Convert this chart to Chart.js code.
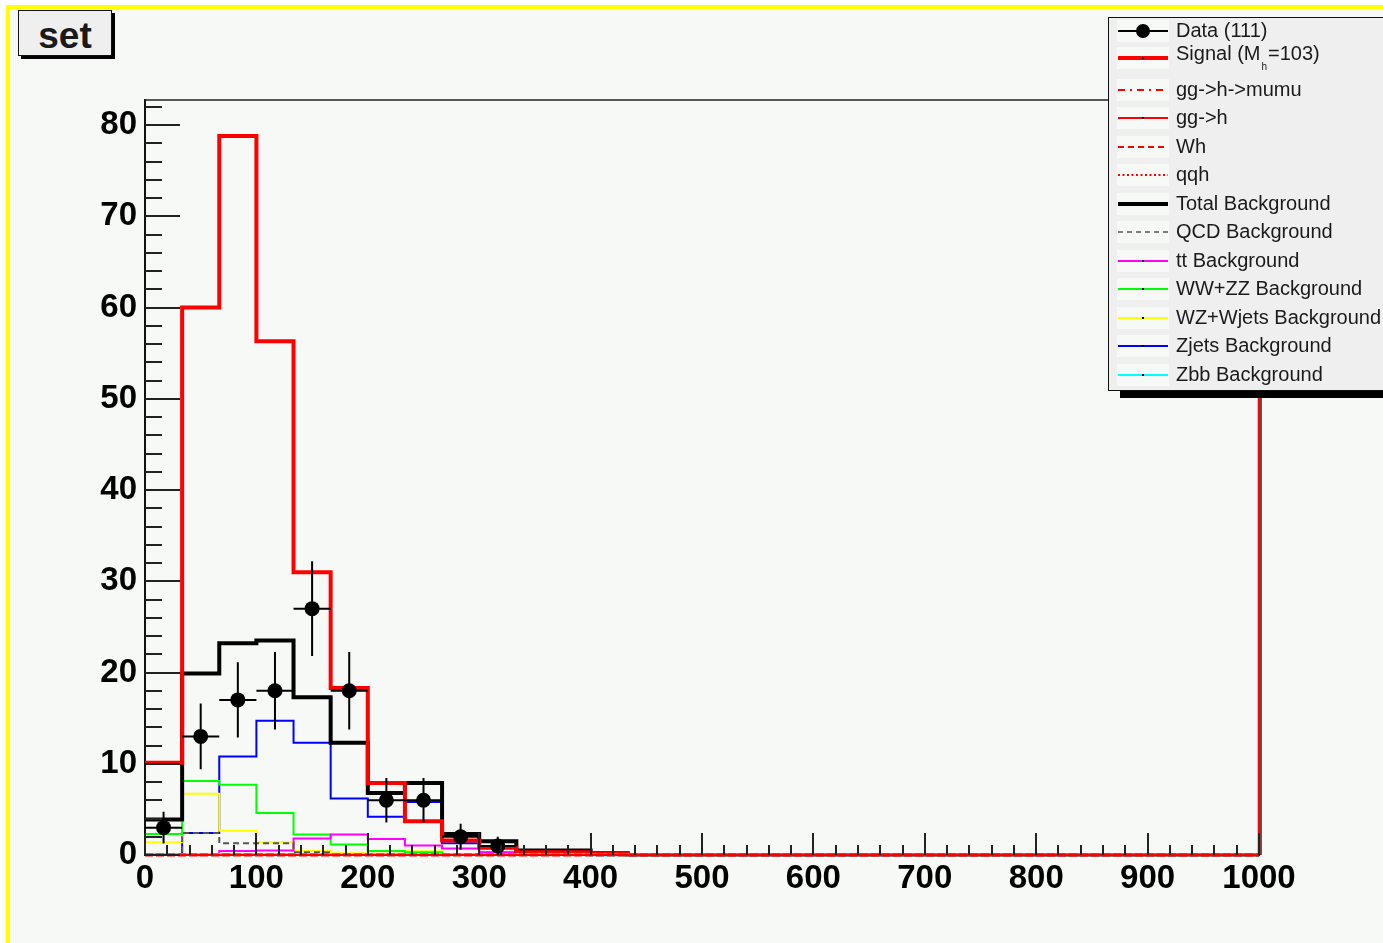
<!DOCTYPE html>
<html>
<head>
<meta charset="utf-8">
<script src="https://cdn.jsdelivr.net/npm/chart.js@4.4.1/dist/chart.umd.min.js"></script>
<style>
  html, body { margin: 0; padding: 0; background: #ffffff; overflow: hidden; width: 1383px; height: 943px; }
  #pad { position: absolute; left: 6px; top: 5px; width: 1400px; height: 960px; box-sizing: border-box;
         background: #f6f9f6; border-left: 4px solid #ffff00; border-top: 4px solid #ffff00; }
  #plot { position: absolute; left: 0; top: 0; }
  .box { position: absolute; background: #efefef; border: 1.5px solid #111; box-sizing: border-box;
         font-family: "Liberation Sans", Arial, Helvetica, sans-serif; color: #1a1a1a; }
  .shadow { position: absolute; background: #000; }
  #title { left: 18px; top: 10px; width: 94px; height: 46px; font-weight: bold; font-size: 37px;
           text-align: center; line-height: 50px; overflow: hidden; }
  #legend { left: 1108px; top: 17px; width: 300px; height: 374px; font-size: 20px; }
  .row { position: absolute; left: 0; height: 24px; width: 300px; }
  .sym { position: absolute; left: 8px; top: 1px; width: 52px; height: 22px; background: #f6f9f6; }
  .sym svg { position: absolute; left: 0; top: 0; }
  .txt { position: absolute; left: 67px; top: 0; line-height: 22px; white-space: nowrap; }
  .sub { font-size: 10px; position: relative; top: 10px; margin: 0 1px 0 1px; }
</style>
</head>
<body>
<div id="pad"></div>
<canvas id="plot" width="1383" height="943"></canvas>
<div class="shadow" style="left:21px;top:13px;width:94px;height:46px;"></div>
<div id="title" class="box">set</div>
<div class="shadow" style="left:1120px;top:24px;width:300px;height:374px;"></div>
<div id="legend" class="box"></div>

<script>
// ---- Binning of the histograms (30 bins from 0 to 1000) ----
const NBINS = 30;
const X_MIN = 0;
const X_MAX = 1000;
const Y_MAX = 82.74;
const xTickLabels = [0, 100, 200, 300, 400, 500, 600, 700, 800, 900, 1000];
const yTickLabels = [0, 10, 20, 30, 40, 50, 60, 70, 80];

// ---- Bin contents ----
const dataCounts      = [3, 13, 17, 18, 27, 18, 6, 6, 2, 1, 0, 0, 0, 0, 0, 0, 0, 0, 0, 0, 0, 0, 0, 0, 0, 0, 0, 0, 0, 0];
const signalValues    = [10.1, 60.0, 78.8, 56.3, 31.0, 18.3, 7.9, 3.7, 1.6, 0.8, 0.3, 0.3, 0.1, 0, 0, 0, 0, 0, 0, 0, 0, 0, 0, 0, 0, 0, 0, 0, 0, 0];
const ggHmumuValues   = [0, 0, 0, 0, 0, 0, 0, 0, 0, 0, 0, 0, 0, 0, 0, 0, 0, 0, 0, 0, 0, 0, 0, 0, 0, 0, 0, 0, 0, 0];
const ggHValues       = [0, 0, 0, 0, 0, 0, 0, 0, 0, 0, 0, 0, 0, 0, 0, 0, 0, 0, 0, 0, 0, 0, 0, 0, 0, 0, 0, 0, 0, 0];
const whValues        = [0, 0, 0, 0, 0, 0, 0, 0, 0, 0, 0, 0, 0, 0, 0, 0, 0, 0, 0, 0, 0, 0, 0, 0, 0, 0, 0, 0, 0, 0];
const qqhValues       = [0, 0, 0, 0, 0, 0, 0, 0, 0, 0, 0, 0, 0, 0, 0, 0, 0, 0, 0, 0, 0, 0, 0, 0, 0, 0, 0, 0, 0, 0];
const totalBgValues   = [3.9, 19.9, 23.2, 23.5, 17.3, 12.3, 6.8, 7.9, 2.3, 1.5, 0.5, 0.5, 0.2, 0, 0, 0, 0, 0, 0, 0, 0, 0, 0, 0, 0, 0, 0, 0, 0, 0];
const qcdValues       = [0, 2.4, 1.3, 1.3, 0.3, 0, 0, 0, 0, 0, 0, 0, 0, 0, 0, 0, 0, 0, 0, 0, 0, 0, 0, 0, 0, 0, 0, 0, 0, 0];
const ttValues        = [0, 0, 0.45, 0.5, 1.8, 2.25, 1.75, 1.05, 0.7, 0.3, 0, 0, 0, 0, 0, 0, 0, 0, 0, 0, 0, 0, 0, 0, 0, 0, 0, 0, 0, 0];
const wwzzValues      = [2.3, 8.1, 7.7, 4.6, 2.25, 1.15, 0.45, 0.3, 0.1, 0, 0, 0, 0, 0, 0, 0, 0, 0, 0, 0, 0, 0, 0, 0, 0, 0, 0, 0, 0, 0];
const wzWjetsValues   = [1.4, 6.7, 2.65, 1.4, 0.45, 0.2, 0.4, 0.4, 0.1, 0, 0, 0, 0, 0, 0, 0, 0, 0, 0, 0, 0, 0, 0, 0, 0, 0, 0, 0, 0, 0];
const zjetsValues     = [0, 2.4, 10.8, 14.7, 12.3, 6.2, 4.2, 5.8, 1.3, 0.25, 0, 0, 0, 0, 0, 0, 0, 0, 0, 0, 0, 0, 0, 0, 0, 0, 0, 0, 0, 0];
const zbbValues       = [0.05, 0.05, 0.05, 0.05, 0.05, 0.05, 0.05, 0.05, 0.05, 0.05, 0.05, 0.05, 0, 0, 0, 0, 0, 0, 0, 0, 0, 0, 0, 0, 0, 0, 0, 0, 0, 0];

const binWidth = (X_MAX - X_MIN) / NBINS;
const binEdges = Array.from({ length: NBINS + 1 }, (_, i) => X_MIN + i * binWidth);

// Outline of a histogram: one point at each bin's low edge, closed at the upper edge
function histPoints(values) {
  const pts = values.map((v, i) => ({ x: binEdges[i], y: v }));
  pts.push({ x: binEdges[NBINS], y: values[NBINS - 1] });
  return pts;
}

const FONT = '"Liberation Sans", Arial, Helvetica, sans-serif';

// Series styles (lower order = drawn on top)
const histStyles = [
  { label: 'Signal (M_h =103)', values: signalValues,  color: '#ff0000', width: 4,   dash: [],        order: 6,  dot: true },
  { label: 'gg->h->mumu',       values: ggHmumuValues, color: '#ff0000', width: 3,   dash: [8, 3],    order: 1 },
  { label: 'gg->h',             values: ggHValues,     color: '#ff0000', width: 2,   dash: [],        order: 2,  dot: true },
  { label: 'Wh',                values: whValues,      color: '#ff0000', width: 2,   dash: [6, 4],    order: 3 },
  { label: 'qqh',               values: qqhValues,     color: '#ff0000', width: 2,   dash: [2, 3],    order: 4 },
  { label: 'Total Background',  values: totalBgValues, color: '#000000', width: 4,   dash: [],        order: 7 },
  { label: 'QCD Background',    values: qcdValues,     color: '#555555', width: 2,   dash: [6, 4],    order: 8 },
  { label: 'tt Background',     values: ttValues,      color: '#ff00ff', width: 2,   dash: [],        order: 9,  dot: true },
  { label: 'WW+ZZ Background',  values: wwzzValues,    color: '#00ff00', width: 2,   dash: [],        order: 10, dot: true },
  { label: 'WZ+Wjets Background', values: wzWjetsValues, color: '#ffff00', width: 2, dash: [],        order: 11, dot: true },
  { label: 'Zjets Background',  values: zjetsValues,   color: '#0000ff', width: 2,   dash: [],        order: 12, dot: true },
  { label: 'Zbb Background',    values: zbbValues,     color: '#00ffff', width: 3,   dash: [],        order: 5,  dot: true }
];

const datasets = histStyles.map(s => ({
  type: 'line',
  label: s.label,
  data: histPoints(s.values),
  stepped: true,
  borderColor: s.color,
  borderWidth: s.width,
  borderDash: s.dash,
  pointRadius: 0,
  fill: false,
  tension: 0,
  clip: 10,
  order: s.order
}));

const dataPoints = dataCounts
  .map((n, i) => ({ x: (binEdges[i] + binEdges[i + 1]) / 2, y: n, lo: binEdges[i], hi: binEdges[i + 1] }))
  .filter(p => p.y > 0);

datasets.push({
  type: 'scatter',
  label: 'Data (111)',
  data: dataPoints,
  pointRadius: 7.5,
  pointBackgroundColor: '#000',
  pointBorderWidth: 0,
  showLine: false,
  clip: 10,
  order: 0
});

// Error bars: horizontal = bin width, vertical = sqrt(N)
const errorBars = {
  id: 'errorBars',
  beforeDatasetDraw(chart, args) {
    if (args.meta.type !== 'scatter') return;
    const xs = chart.scales.x, ys = chart.scales.y, ctx = chart.ctx;
    ctx.save();
    ctx.strokeStyle = '#000';
    ctx.lineWidth = 2;
    dataPoints.forEach(p => {
      const e = Math.sqrt(p.y);
      const px = xs.getPixelForValue(p.x), py = ys.getPixelForValue(p.y);
      ctx.beginPath();
      ctx.moveTo(xs.getPixelForValue(p.lo), py);
      ctx.lineTo(xs.getPixelForValue(p.hi), py);
      ctx.moveTo(px, ys.getPixelForValue(p.y - e));
      ctx.lineTo(px, ys.getPixelForValue(p.y + e));
      ctx.stroke();
    });
    ctx.restore();
  }
};

// Frame and inward tick marks
const frameTicks = {
  id: 'frameTicks',
  afterDatasetsDraw(chart) {
    const xs = chart.scales.x, ys = chart.scales.y, ctx = chart.ctx;
    const a = chart.chartArea;
    ctx.save();
    // top and right frame lines
    ctx.strokeStyle = '#222';
    ctx.lineWidth = 1.5;
    ctx.beginPath();
    ctx.moveTo(a.left, a.top);
    ctx.lineTo(a.right + 2, a.top);
    ctx.moveTo(a.right + 2, a.top);
    ctx.lineTo(a.right + 2, a.bottom);
    ctx.stroke();
    // right edge of the signal outline
    ctx.strokeStyle = '#ff0000';
    ctx.lineWidth = 2.5;
    ctx.beginPath();
    ctx.moveTo(xs.getPixelForValue(X_MAX), ys.getPixelForValue(0));
    ctx.lineTo(xs.getPixelForValue(X_MAX), a.top);
    ctx.stroke();
    // y ticks: major every 10, minor every 2
    ctx.strokeStyle = '#222';
    ctx.lineWidth = 2;
    ctx.beginPath();
    for (let v = 0; v <= Y_MAX; v += 2) {
      const py = Math.round(ys.getPixelForValue(v));
      const len = (v % 10 === 0) ? 35 : 17;
      ctx.moveTo(a.left, py);
      ctx.lineTo(a.left + len, py);
    }
    // x ticks: major every 100, minor every 20
    for (let v = X_MIN; v <= X_MAX; v += 20) {
      const px = Math.round(xs.getPixelForValue(v));
      const len = (v % 100 === 0) ? 22 : 10;
      ctx.moveTo(px, a.bottom);
      ctx.lineTo(px, a.bottom - len);
    }
    ctx.stroke();
    ctx.restore();
  }
};

new Chart(document.getElementById('plot'), {
  type: 'line',
  data: { datasets },
  options: {
    responsive: false,
    devicePixelRatio: 1,
    animation: false,
    layout: { padding: { top: 100, right: 124, left: 0, bottom: 0 } },
    plugins: { legend: { display: false }, tooltip: { enabled: false }, title: { display: false } },
    scales: {
      x: {
        type: 'linear',
        min: X_MIN, max: X_MAX,
        afterFit(scale) { scale.height = 88; },
        afterBuildTicks(scale) { scale.ticks = xTickLabels.map(v => ({ value: v })); },
        grid: { display: false, drawTicks: false },
        border: { display: true, color: '#111', width: 2 },
        ticks: { autoSkip: false, maxRotation: 0, padding: 4, color: '#000',
                 callback: v => String(v),
                 font: { family: FONT, size: 33, weight: 'bold' } }
      },
      y: {
        type: 'linear',
        min: 0, max: Y_MAX,
        afterFit(scale) { scale.width = 145; },
        afterBuildTicks(scale) { scale.ticks = yTickLabels.map(v => ({ value: v })); },
        grid: { display: false, drawTicks: false },
        border: { display: true, color: '#111', width: 2 },
        ticks: { padding: 8, color: '#000', callback: v => String(v),
                 font: { family: FONT, size: 33, weight: 'bold' } }
      }
    }
  },
  plugins: [errorBars, frameTicks]
});

// ---- Legend ----
const legendRows = [
  { text: 'Data (111)', kind: 'data', shift: -2 },
  { text: 'Signal (M<span class="sub">h</span>=103)', style: histStyles[0], shift: -3, textShift: -4 },
  { text: 'gg-&gt;h-&gt;mumu', style: histStyles[1], dash: '7 5 2 5' },
  { text: 'gg-&gt;h', style: histStyles[2] },
  { text: 'Wh', style: histStyles[3], dash: '6 4' },
  { text: 'qqh', style: histStyles[4], dash: '2 2.5' },
  { text: 'Total Background', style: histStyles[5] },
  { text: 'QCD Background', style: histStyles[6], dash: '5 4', width: 1.5 },
  { text: 'tt Background', style: histStyles[7] },
  { text: 'WW+ZZ Background', style: histStyles[8] },
  { text: 'WZ+Wjets Background', style: histStyles[9] },
  { text: 'Zjets Background', style: histStyles[10] },
  { text: 'Zbb Background', style: histStyles[11] }
];

const legendEl = document.getElementById('legend');
legendRows.forEach((r, i) => {
  const row = document.createElement('div');
  row.className = 'row';
  row.style.top = (2.5 + 28.5 * i + (r.shift || 0)) + 'px';
  let svg = '<svg width="52" height="22" xmlns="http://www.w3.org/2000/svg">';
  if (r.kind === 'data') {
    svg += '<line x1="1" y1="11" x2="51" y2="11" stroke="#000" stroke-width="2"/>';
    svg += '<circle cx="26" cy="11" r="7" fill="#000"/>';
  } else {
    const s = r.style;
    const w = r.width || (s.width === 4 ? 4 : 2);
    svg += '<line x1="1" y1="11" x2="51" y2="11" stroke="' + s.color + '" stroke-width="' + w + '"' +
           (r.dash ? ' stroke-dasharray="' + r.dash + '"' : '') + '/>';
    if (s.dot) svg += '<rect x="25" y="10" width="2" height="2" fill="#000"/>';
  }
  svg += '</svg>';
  row.innerHTML = '<div class="sym">' + svg + '</div><div class="txt" style="top:' + (r.textShift || 0) + 'px">' + r.text + '</div>';
  legendEl.appendChild(row);
});
</script>
</body>
</html>
